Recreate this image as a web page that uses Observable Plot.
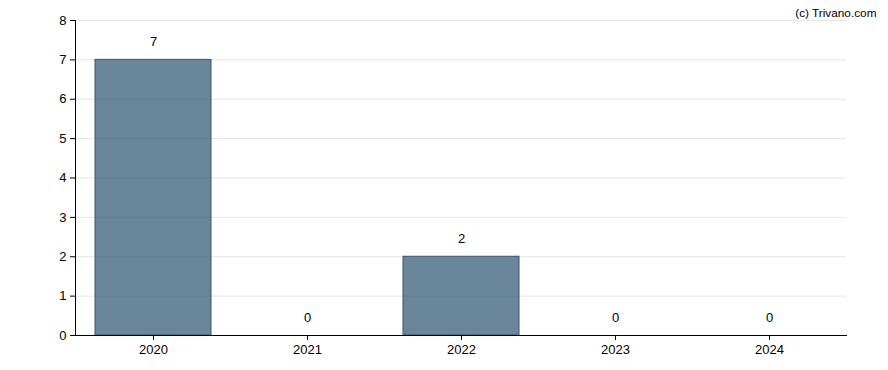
<!DOCTYPE html>
<html>
<head>
<meta charset="utf-8">
<script src="https://cdn.jsdelivr.net/npm/d3@7"></script>
<script src="https://cdn.jsdelivr.net/npm/@observablehq/plot@0.6"></script>
<style>
  html, body { margin: 0; padding: 0; background: #fff; }
  #chart { width: 888px; height: 370px; }
</style>
</head>
<body>
<div id="chart"></div>
<script>
const years = ["2020", "2021", "2022", "2023", "2024"];
const counts = [7, 0, 2, 0, 0];
const yTicks = [0, 1, 2, 3, 4, 5, 6, 7, 8];
const credit = "(c) Trivano.com";

const data = years.map((y, i) => ({year: y, value: counts[i]}));

const chart = Plot.plot({
  width: 888,
  height: 370,
  marginLeft: 75,
  marginRight: 42,
  marginTop: 20,
  marginBottom: 35,
  style: {fontFamily: "Liberation Sans, Arial, sans-serif", fontSize: "13px", color: "#000", background: "#fff"},
  x: {domain: years, paddingInner: 0.25, paddingOuter: 0.125, label: null},
  y: {domain: [0, 8], label: null},
  marks: [
    Plot.gridY(yTicks, {stroke: "#e6e6e6", strokeOpacity: 1, strokeWidth: 1}),
    Plot.barY(data, {x: "year", y: "value", fill: "#2f5873", fillOpacity: 0.72, stroke: "#3b566b", strokeWidth: 1}),
    Plot.text(data, {x: "year", y: "value", text: d => String(d.value), dy: -18, fill: "#000", fontSize: 13}),
    Plot.axisY(yTicks, {tickSize: 5, tickPadding: 4, fontSize: 13, fill: "#000", tickFormat: d => String(d)}),
    Plot.axisX({tickSize: 5, tickPadding: 4, fontSize: 13, fill: "#000", label: null}),
    Plot.frame({anchor: "left", stroke: "#000"}),
    Plot.frame({anchor: "bottom", stroke: "#000"}),
    Plot.text([credit], {frameAnchor: "top-right", text: d => d, dx: 30, dy: -12, fontSize: 11.8, fill: "#000", textAnchor: "end"})
  ]
});
document.getElementById("chart").appendChild(chart);
</script>
</body>
</html>
